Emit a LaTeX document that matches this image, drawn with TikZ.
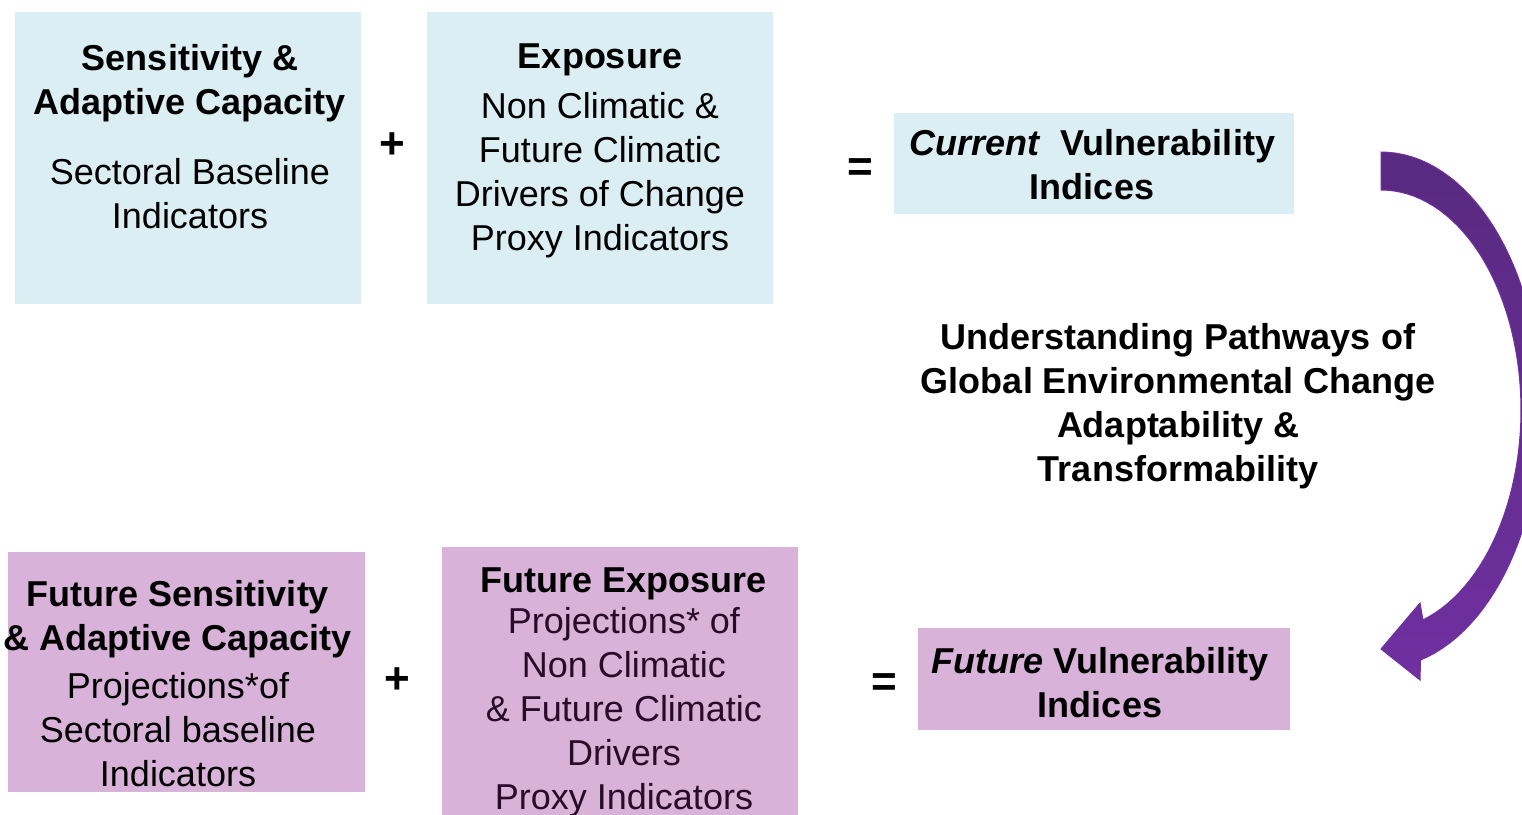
\documentclass[tikz,border=0pt]{standalone}
\usepackage{fontspec}
\setmainfont{Liberation Sans}
\definecolor{lblue}{HTML}{DBEEF3}
\definecolor{lpink}{HTML}{D8B2D8}
\definecolor{arrtop}{HTML}{582A80}
\definecolor{arrbot}{HTML}{7030A0}
\definecolor{plum}{HTML}{2A0A2A}
\begin{document}
\begin{tikzpicture}[x=1pt,y=-1pt,
  bluebox/.style={fill=lblue,draw=none,inner sep=0,outer sep=0},
  pinkbox/.style={fill=lpink,draw=none,inner sep=0,outer sep=0},
  txt/.style={font=\fontsize{36}{44}\selectfont,align=center,anchor=north,inner sep=0},
  op/.style={font=\fontsize{44}{44}\selectfont\bfseries,inner sep=0}]
\useasboundingbox (0,0) rectangle (1522,814);
% top row
\node[bluebox,minimum width=346pt,minimum height=292pt] (sac) at (188,158) {};
\node[bluebox,minimum width=346pt,minimum height=292pt] (exp) at (600,158) {};
\node[bluebox,minimum width=400pt,minimum height=101pt] (cur) at (1094,163.5) {};
\node[txt] (sact) at (190,44) {\textbf{Sensitivity \&}\\\textbf{Adaptive Capacity}\\[26pt]Sectoral Baseline\\Indicators};
\node[txt] (expt) at (600,44) {\textbf{Exposure}\\[6pt]Non Climatic \&\\Future Climatic\\Drivers of Change\\Proxy Indicators};
\node[txt] (curt) at (1092,129) {\textbf{\textit{Current}}\ \ \textbf{Vulnerability}\\\textbf{Indices}};
\node[op] (plus1) at (392,146) {+};
\node[op] (eq1) at (860,170) {=};
% middle text
\node[txt] (mid) at (1178,323) {\textbf{Understanding Pathways of}\\\textbf{Global Environmental Change}\\\textbf{Adaptability \&}\\\textbf{Transformability}};
% bottom row
\node[pinkbox,minimum width=357pt,minimum height=240pt] (fsac) at (186.5,672) {};
\node[pinkbox,minimum width=356pt,minimum height=270pt] (fexp) at (620,682) {};
\node[pinkbox,minimum width=372pt,minimum height=102pt] (fut) at (1104,679) {};
\node[txt] (fsact) at (178,580) {\textbf{Future Sensitivity}\\\textbf{\& Adaptive Capacity}\\[4pt]Projections*of\\Sectoral baseline\\Indicators};
\node[txt] (fexpt) at (624,568) {\textbf{Future Exposure}\\[-3pt]\color{plum}Projections* of\\\color{plum}Non Climatic\\\color{plum}\& Future Climatic\\\color{plum}Drivers\\\color{plum}Proxy Indicators};
\node[txt] (futt) at (1100,647) {\textbf{\textit{Future}} \textbf{Vulnerability}\\\textbf{Indices}};
\node[op] (plus2) at (397,681) {+};
\node[op] (eq2) at (884,685) {=};
% curved arrow from current to future indices
\path[draw=arrbot,line width=1pt,top color=arrtop,bottom color=arrbot]
  plot[domain=-90:75.7,samples=60,variable=\t] ({1381+160*cos(\t)},{410+258*sin(\t)})
  -- (1420,680) -- (1381,649) -- (1420,603) -- (1422.9,619.9)
  -- plot[domain=72.6:-90,samples=60,variable=\t] ({1381+140*cos(\t)},{410+220*sin(\t)})
  -- cycle;
\end{tikzpicture}
\end{document}
